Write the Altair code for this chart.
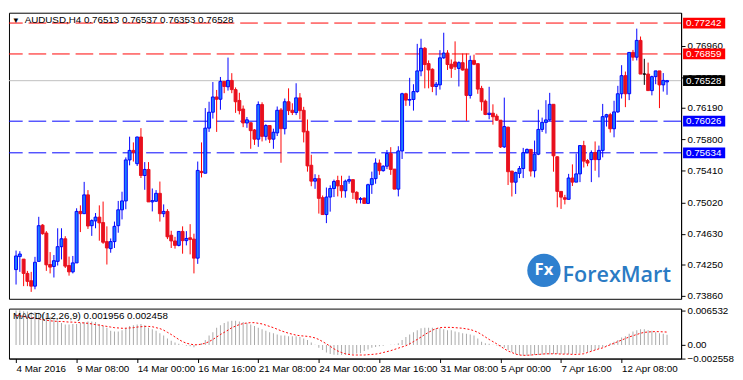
import altair as alt
import pandas as pd

FONT = "Liberation Sans"

opens = [
0.74187,0.74348,0.74317,0.74140,0.74049,0.73982,0.74289,0.74738,0.74640,0.74250,
0.74226,0.74289,0.74471,0.74569,0.74238,0.74159,0.74270,0.74908,0.74880,0.75113,
0.74731,0.74790,0.74837,0.74770,0.74534,0.74447,0.74534,0.74731,0.74928,0.75038,
0.75546,0.75664,0.75499,0.75830,0.75353,0.75428,0.75026,0.75034,0.75132,0.74880,
0.74908,0.74613,0.74542,0.74487,0.74660,0.74546,0.74581,0.74565,0.74329,0.75404,
0.75381,0.75940,0.76137,0.76326,0.76298,0.76519,0.76452,0.76531,0.76417,0.76283,
0.76177,0.76004,0.76007,0.75917,0.75803,0.76232,0.75838,0.75972,0.75803,0.75881,
0.76165,0.75933,0.76267,0.76161,0.76133,0.76315,0.76161,0.75901,0.75480,0.75283,
0.75314,0.75078,0.74869,0.75086,0.75192,0.75291,0.75228,0.75164,0.75283,0.75302,
0.75145,0.75058,0.75074,0.75007,0.75239,0.75314,0.75507,0.75413,0.75468,0.75625,
0.75432,0.75184,0.75657,0.76366,0.76287,0.76295,0.76393,0.76649,0.76929,0.76740,
0.76669,0.76456,0.76476,0.76811,0.76870,0.76732,0.76760,0.76680,0.76751,0.76672,
0.76345,0.76779,0.76739,0.76432,0.76274,0.76109,0.76125,0.76089,0.76038,0.75707,
0.75951,0.75408,0.75270,0.75380,0.75439,0.75636,0.75676,0.75412,0.75617,0.75924,
0.76011,0.76042,0.76235,0.75585,0.75156,0.75078,0.75058,0.75322,0.75271,0.75373,
0.75724,0.75538,0.75550,0.75637,0.75550,0.75664,0.76078,0.76106,0.75932,0.76141,
0.76366,0.76590,0.76366,0.76878,0.76819,0.77027,0.76610,0.76610,0.76405,0.76578,
0.76649,0.76476,0.76513]

highs = [
0.74423,0.74415,0.74317,0.74171,0.74159,0.74345,0.74841,0.74750,0.74664,0.74404,
0.74368,0.74699,0.74699,0.74601,0.74348,0.74356,0.74947,0.74983,0.75274,0.75172,
0.74809,0.74888,0.74983,0.75030,0.74723,0.74573,0.74782,0.75038,0.75152,0.75577,
0.75834,0.75763,0.75834,0.75940,0.75519,0.75519,0.75192,0.75172,0.75278,0.74995,
0.74936,0.74668,0.74593,0.74660,0.74723,0.74664,0.74750,0.74632,0.75526,0.75763,
0.76188,0.76267,0.76511,0.76413,0.76574,0.76519,0.76814,0.76621,0.76444,0.76378,
0.76220,0.76078,0.76007,0.75929,0.76271,0.76260,0.75988,0.75972,0.75933,0.76208,
0.76189,0.76307,0.76433,0.76248,0.76496,0.76374,0.76204,0.76047,0.75610,0.75369,
0.75361,0.75105,0.75204,0.75231,0.75302,0.75350,0.75350,0.75302,0.75350,0.75302,
0.75157,0.75086,0.75078,0.75251,0.75401,0.75566,0.75551,0.75480,0.75669,0.75704,
0.75432,0.75716,0.76378,0.76378,0.76563,0.76484,0.76984,0.77047,0.76945,0.76779,
0.76681,0.76512,0.76906,0.77122,0.76906,0.76791,0.77015,0.76767,0.76865,0.76865,
0.76838,0.76850,0.76739,0.76464,0.76294,0.76452,0.76235,0.76117,0.76038,0.76318,
0.75959,0.75408,0.75400,0.75471,0.75695,0.75688,0.75676,0.75786,0.76168,0.76070,
0.76286,0.76377,0.76235,0.75589,0.75156,0.75113,0.75373,0.75491,0.75625,0.75724,
0.75783,0.75558,0.75664,0.75775,0.75724,0.76240,0.76117,0.76129,0.76279,0.76464,
0.76720,0.76641,0.76878,0.76909,0.77173,0.77075,0.76799,0.76752,0.76590,0.76649,
0.76649,0.76622,0.76537]

lows = [
0.74002,0.74159,0.73982,0.73982,0.73911,0.73943,0.74289,0.74620,0.74171,0.74140,
0.74089,0.74238,0.74313,0.74207,0.74112,0.74140,0.74270,0.74652,0.74880,0.74691,
0.74605,0.74699,0.74545,0.74506,0.74250,0.74396,0.74455,0.74644,0.74809,0.74935,
0.75479,0.75526,0.75471,0.75322,0.75176,0.75026,0.74908,0.75026,0.74782,0.74837,
0.74565,0.74455,0.74447,0.74475,0.74384,0.74487,0.74376,0.74140,0.74258,0.75329,
0.75381,0.75893,0.76058,0.75893,0.76168,0.76373,0.76405,0.76373,0.76129,0.76110,
0.75952,0.75944,0.75684,0.75732,0.75708,0.75775,0.75787,0.75755,0.75684,0.75842,
0.75511,0.75862,0.76102,0.76102,0.76102,0.76051,0.75763,0.75401,0.75220,0.75188,
0.74881,0.74869,0.74763,0.74905,0.75086,0.75094,0.75078,0.75078,0.75251,0.75062,
0.75007,0.75007,0.75007,0.75007,0.75125,0.75251,0.75361,0.75401,0.75432,0.75361,
0.75184,0.75094,0.75558,0.76216,0.76216,0.76157,0.76378,0.76583,0.76433,0.76433,
0.76386,0.76346,0.76417,0.76799,0.76661,0.76563,0.76660,0.76456,0.76653,0.76030,
0.76306,0.76720,0.76365,0.76156,0.76101,0.76050,0.75983,0.76030,0.75695,0.75695,
0.75235,0.75093,0.75124,0.75321,0.75321,0.75628,0.75341,0.75329,0.75605,0.75892,
0.75873,0.76030,0.75400,0.74959,0.74939,0.74995,0.75058,0.75223,0.75271,0.75271,
0.75452,0.75468,0.75271,0.75412,0.75330,0.75578,0.75960,0.75885,0.75826,0.76129,
0.76307,0.76200,0.76287,0.76775,0.76779,0.76610,0.76476,0.76405,0.76346,0.76484,
0.76188,0.76393,0.76353]

closes = [
0.74356,0.74380,0.74140,0.74041,0.73982,0.74278,0.74731,0.74632,0.74246,0.74218,
0.74297,0.74471,0.74569,0.74230,0.74159,0.74270,0.74908,0.74880,0.75113,0.74727,
0.74794,0.74837,0.74766,0.74526,0.74455,0.74534,0.74723,0.74928,0.75038,0.75546,
0.75664,0.75641,0.75830,0.75353,0.75428,0.75026,0.75042,0.75132,0.74880,0.74908,
0.74593,0.74542,0.74487,0.74660,0.74546,0.74573,0.74561,0.74329,0.75416,0.75389,
0.75940,0.76137,0.76326,0.76298,0.76519,0.76456,0.76531,0.76417,0.76267,0.76157,
0.76004,0.76043,0.75909,0.75803,0.76232,0.75838,0.75972,0.75803,0.75889,0.76161,
0.75933,0.76267,0.76157,0.76133,0.76315,0.76157,0.75893,0.75472,0.75283,0.75314,
0.75070,0.74869,0.75086,0.75192,0.75279,0.75224,0.75164,0.75283,0.75302,0.75145,
0.75058,0.75066,0.75007,0.75239,0.75314,0.75507,0.75413,0.75468,0.75625,0.75428,
0.75184,0.75657,0.76366,0.76287,0.76295,0.76393,0.76649,0.76929,0.76728,0.76661,
0.76456,0.76484,0.76811,0.76870,0.76728,0.76681,0.76700,0.76751,0.76660,0.76345,
0.76779,0.76731,0.76424,0.76267,0.76109,0.76125,0.76081,0.76038,0.75707,0.75959,
0.75400,0.75270,0.75388,0.75439,0.75636,0.75676,0.75408,0.75617,0.75924,0.76011,
0.76042,0.76235,0.75597,0.75156,0.75085,0.75058,0.75322,0.75271,0.75373,0.75724,
0.75531,0.75507,0.75637,0.75550,0.75664,0.76082,0.76106,0.75932,0.76141,0.76366,
0.76590,0.76366,0.76878,0.76819,0.77027,0.76610,0.76610,0.76405,0.76578,0.76649,
0.76476,0.76531,0.76528]

# MACD main (histogram) and signal, in units of 0.001
macd_main = [
6.53,6.53,6.41,6.35,6.24,6.24,6.12,5.94,5.65,5.35,
5.06,4.59,4.18,3.88,3.88,4.00,4.00,4.18,4.35,4.47,
4.47,4.35,4.00,3.59,3.29,2.71,2.59,2.59,2.82,3.29,
3.59,3.77,3.88,4.00,3.77,3.29,3.00,2.71,2.24,1.82,
1.24,0.82,0.47,0.24,0.06,-0.12,-0.24,-0.41,0.06,0.35,
0.94,1.82,2.41,3.29,3.77,4.18,4.47,4.59,4.59,4.47,
4.35,4.18,3.88,3.59,3.29,3.00,2.71,2.41,2.24,2.00,
1.82,1.82,1.65,1.65,1.65,1.53,1.24,0.94,0.47,0.06,
-0.53,-0.94,-1.41,-1.71,-1.82,-1.88,-1.88,-1.82,-1.77,-1.71,
-1.59,-1.53,-1.12,-0.82,-0.53,-0.35,-0.24,-0.12,0.00,0.06,
0.06,0.35,0.94,1.53,2.00,2.41,2.82,3.18,3.29,3.29,
3.29,3.18,3.18,3.00,2.82,2.82,2.59,2.41,2.24,2.12,
2.00,1.82,1.24,0.65,0.35,0.24,0.06,-0.06,-0.24,-0.53,
-0.94,-1.30,-1.71,-1.88,-2.00,-2.00,-2.00,-1.88,-1.88,-1.82,
-1.77,-1.77,-1.71,-1.71,-1.71,-1.71,-1.71,-1.71,-1.59,-1.53,
-1.41,-1.30,-1.12,-0.94,-0.71,-0.41,-0.12,0.35,0.65,0.94,
1.41,1.65,2.12,2.59,2.82,3.00,3.00,2.82,2.71,2.41,
2.24,2.12,1.956]

macd_signal = [
5.65,5.53,5.41,5.29,5.18,5.06,4.94,4.82,4.71,4.59,
4.53,4.47,4.47,4.41,4.35,4.35,4.29,4.24,4.18,4.12,
4.00,3.88,3.77,3.65,3.53,3.41,3.29,3.24,3.18,3.18,
3.24,3.29,3.41,3.47,3.53,3.53,3.47,3.29,3.12,2.82,
2.41,2.00,1.53,1.06,0.65,0.35,0.18,0.06,0.06,0.18,
0.35,0.65,1.06,1.53,2.00,2.41,2.82,3.29,3.59,3.88,
4.06,4.18,4.24,4.24,4.12,4.00,3.77,3.53,3.29,3.00,
2.71,2.47,2.24,2.06,1.88,1.77,1.71,1.65,1.53,1.35,
1.06,0.65,0.24,-0.24,-0.71,-1.12,-1.41,-1.65,-1.77,-1.88,
-1.88,-1.88,-1.88,-1.82,-1.77,-1.71,-1.59,-1.41,-1.24,-1.06,
-0.82,-0.59,-0.35,-0.12,0.24,0.65,1.06,1.53,2.00,2.41,
2.82,3.12,3.29,3.35,3.35,3.35,3.29,3.24,3.18,3.06,
2.94,2.71,2.41,2.00,1.53,1.06,0.65,0.24,-0.24,-0.71,
-1.12,-1.41,-1.71,-1.88,-1.94,-1.94,-1.88,-1.82,-1.77,-1.71,
-1.65,-1.65,-1.65,-1.65,-1.71,-1.71,-1.71,-1.77,-1.77,-1.71,
-1.65,-1.41,-1.18,-0.94,-0.71,-0.53,-0.24,0.06,0.35,0.65,
0.94,1.24,1.53,1.77,2.00,2.24,2.41,2.47,2.53,2.55,
2.53,2.50,2.458]

tick_index = [0, 16, 32, 48, 64, 80, 96, 112, 128, 144, 160]
tick_labels = ["4 Mar 2016", "9 Mar 08:00", "14 Mar 00:00", "16 Mar 16:00",
               "21 Mar 08:00", "24 Mar 00:00", "28 Mar 16:00", "31 Mar 08:00",
               "5 Apr 00:00", "7 Apr 16:00", "12 Apr 08:00"]

price_ticks = [0.7386, 0.7425, 0.7463, 0.7502, 0.7541, 0.7580, 0.7619, 0.7657, 0.7696]
level_prices = [0.77242, 0.76859, 0.76528, 0.76026, 0.75634]
level_colors = ["#FF0000", "#FF0000", "#000000", "#0000FF", "#0000FF"]
level_dashed = [True, True, False, True, True]
line_colors = ["#FF0000", "#FF0000", "#C0C0C0", "#0000FF", "#0000FF"]

macd_ticks = [0.006532, 0.0, -0.002558]

title_text = "AUDUSD,H4  0.76513 0.76537 0.76353 0.76528"
macd_text = "MACD(12,26,9) 0.001956 0.002458"

# ---------------------------------------------------------------
n = len(opens)
dirs = ["up" if c > o else ("down" if c < o else "doji") for o, c in zip(opens, closes)]
df = pd.DataFrame({"i": list(range(n)), "open": opens, "high": highs,
                   "low": lows, "close": closes, "dir": dirs})
mdf = pd.DataFrame({"i": list(range(n)),
                    "main": [v * 1e-3 for v in macd_main],
                    "signal": [v * 1e-3 for v in macd_signal]})

W = 686
HM = 292
HD = 51

DIRS = ["up", "down", "doji"]
xs = alt.Scale(domain=[-0.575, 174.425], nice=False, zero=False)
ys = alt.Scale(domain=[0.73825, 0.7737], nice=False, zero=False)
ms = alt.Scale(domain=[-0.002558, 0.0069], nice=False, zero=False)

base = alt.Chart(df)
x_main = alt.X("i:Q", scale=xs, axis=None)

price_axis = alt.Axis(orient="right", values=price_ticks, format=".5f", title=None,
                      grid=False, tickSize=4, labelPadding=2, labelOverlap=False,
                      labelFlush=False)

wicks = base.mark_rule(strokeWidth=1).encode(
    x=x_main,
    y=alt.Y("low:Q", scale=ys, axis=price_axis),
    y2="high:Q",
    color=alt.Color("dir:N", scale=alt.Scale(domain=DIRS, range=["#0000FF", "#FF0000", "#000000"]), legend=None),
)

bodies = base.mark_bar(width=3, strokeWidth=1).encode(
    x=x_main,
    y=alt.Y("open:Q", scale=ys, axis=price_axis),
    y2="close:Q",
    fill=alt.Fill("dir:N", scale=alt.Scale(domain=DIRS, range=["#1E7BFF", "#E8101E", "#000000"]), legend=None),
    stroke=alt.Stroke("dir:N", scale=alt.Scale(domain=DIRS, range=["#0000FF", "#E8101E", "#000000"]), legend=None),
)

level_layers = []
box_layers = []
for p, c, dashed, lc in zip(level_prices, level_colors, level_dashed, line_colors):
    ldf = pd.DataFrame({"price": [p]})
    kw = dict(color=lc, strokeWidth=1)
    if dashed:
        kw["strokeDash"] = [18, 6]
    level_layers.append(alt.Chart(ldf).mark_rule(**kw).encode(
        y=alt.Y("price:Q", scale=ys, axis=price_axis)))
    box_layers.append(
        alt.Chart(ldf).mark_tick(orient="horizontal", size=43, thickness=11, color=c, opacity=1).encode(
            x=alt.value(W + 23.5), y=alt.Y("price:Q", scale=ys, axis=price_axis)))
    box_layers.append(
        alt.Chart(ldf).mark_text(align="left", baseline="middle", color="white", fontSize=10, font=FONT).encode(
            x=alt.value(W + 5), y=alt.Y("price:Q", scale=ys, axis=price_axis),
            text=alt.Text("price:Q", format=".5f")))

logo_df = pd.DataFrame({"fx": ["Fx"], "name": ["ForexMart"]})
logo_circle = alt.Chart(logo_df).mark_point(shape="circle", filled=True, size=1156, color="#2F80CF", opacity=1).encode(
    x=alt.value(546), y=alt.value(263))
logo_fx = alt.Chart(logo_df).mark_text(color="white", fontSize=17, fontWeight="bold", font="Open Sans",
                                       baseline="middle", align="center").encode(
    x=alt.value(546), y=alt.value(263), text="fx:N")
logo_name = alt.Chart(logo_df).mark_text(color="#2B7BC4", fontSize=22, fontWeight=600, font="Open Sans",
                                         align="left", baseline="alphabetic").encode(
    x=alt.value(565), y=alt.value(275), text="name:N")

title_df = pd.DataFrame({"tri": ["\u25bc"], "t": [title_text], "m": [macd_text]})
title_tri = alt.Chart(title_df).mark_text(align="left", baseline="middle", fontSize=8, color="black").encode(
    x=alt.value(3), y=alt.value(8), text="tri:N")
title = alt.Chart(title_df).mark_text(align="left", baseline="middle", fontSize=10, font=FONT, color="black").encode(
    x=alt.value(16), y=alt.value(8), text="t:N")

main = alt.layer(*level_layers, wicks, bodies, logo_circle, logo_fx, logo_name, title_tri, title,
                 *box_layers).resolve_scale(color="independent").properties(width=W, height=HM)

# MACD panel
label_expr = "[" + ",".join("'" + t + "'" for t in tick_labels) + "][round(datum.value/16)]"
x_axis = alt.Axis(values=tick_index, labelExpr=label_expr, labelAlign="left", labelAngle=0,
                  tickSize=4, labelPadding=1, labelOverlap=False, labelFlush=False,
                  grid=False, title=None)
macd_axis = alt.Axis(orient="right", values=macd_ticks, title=None, grid=False, tickSize=4,
                     labelPadding=2, labelOverlap=False, labelFlush=False,
                     labelExpr="datum.value == 0 ? '0.00' : format(datum.value, '.6f')")
mbase = alt.Chart(mdf)
hist = mbase.mark_bar(width=1, color="#A9A9A9").encode(
    x=alt.X("i:Q", scale=xs, axis=x_axis),
    y=alt.Y("main:Q", scale=ms, axis=macd_axis),
)
sig = mbase.mark_line(color="#FF0000", strokeDash=[2, 2], strokeWidth=1).encode(
    x=alt.X("i:Q", scale=xs, axis=x_axis), y=alt.Y("signal:Q", scale=ms, axis=macd_axis))
mlabel = alt.Chart(title_df).mark_text(align="left", baseline="middle", fontSize=10, font=FONT, color="black").encode(
    x=alt.value(4), y=alt.value(8), text="m:N")
macd = alt.layer(hist, sig, mlabel).properties(width=W, height=HD)

chart = alt.vconcat(main, macd, spacing=3).configure_view(
    stroke="black", strokeWidth=1
).configure_axis(
    labelFont=FONT, labelFontSize=10, labelColor="black", tickColor="black",
    domainColor="black", domainWidth=1, tickWidth=1, labelOverlap=False
).properties(padding={"left": 0, "top": 0, "right": 0, "bottom": 0})

chart.save("out.html", embed_options={"renderer": "svg", "actions": False})
